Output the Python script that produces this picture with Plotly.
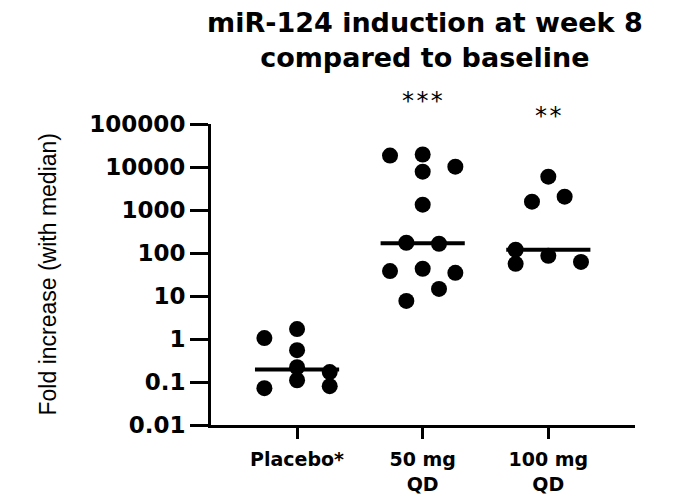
import numpy as np
import plotly.graph_objects as go

# ---- data ----
groups = ["Placebo*", "50 mg<br>QD", "100 mg<br>QD"]
placebo = [1.05, 1.7, 0.55, 0.22, 0.11, 0.072, 0.17, 0.08]
mg50 = [18450, 19500, 7800, 10200, 1330, 173, 164, 38, 43, 34.5, 14.6, 7.7]
mg100 = [5970, 1560, 2040, 119, 56, 86, 62]
significance = ["", "***", "**"]
ytick_vals = [0.01, 0.1, 1, 10, 100, 1000, 10000, 100000]
ytick_text = ["0.01", "0.1", "1", "10", "100", "1000", "10000", "100000"]
title_text = "miR-124 induction at week 8<br>compared to baseline"
ytitle_text = "Fold increase (with median)"

# ---- layout helpers (scatter offsets within each column) ----
offsets = [
    [-0.26, 0, 0, 0, 0, -0.26, 0.26, 0.26],
    [-0.26, 0, 0, 0.26, 0, -0.13, 0.13, -0.26, 0, 0.26, 0.13, -0.13],
    [0, -0.13, 0.13, -0.26, -0.26, 0, 0.26],
]
series = [placebo, mg50, mg100]
sig_pixel_y = [None, 101, 116]

fig = go.Figure()
for i, (vals, offs) in enumerate(zip(series, offsets)):
    fig.add_trace(go.Scatter(
        x=[i + o for o in offs], y=vals, mode="markers",
        marker=dict(size=16, color="black", line=dict(width=0)),
        showlegend=False, hoverinfo="y"))
    med = float(np.median(vals))
    fig.add_trace(go.Scatter(
        x=[i - 0.335, i + 0.335], y=[med, med], mode="lines",
        line=dict(color="black", width=4), showlegend=False, hoverinfo="skip"))

# plot-area geometry (pixels)
W, Hh = 696, 499
L, R, T, B = 211, 61, 124, 74
PW = W - L - R
PH = Hh - T - B
def px_to_paper_y(py):
    return (Hh - B - py) / PH
def px_to_paper_x(px):
    return (px - L) / PW

for i, s in enumerate(significance):
    if s:
        fig.add_annotation(x=i, y=px_to_paper_y(sig_pixel_y[i]), xref="x", yref="paper",
                           text="\u200a".join(s), showarrow=False, yanchor="middle",
                           font=dict(family="DejaVu Sans", size=24, color="black"))

fig.add_annotation(x=px_to_paper_x(425), y=px_to_paper_y(5), xref="paper", yref="paper",
                   text=title_text, showarrow=False, xanchor="center", yanchor="top",
                   font=dict(family="DejaVu Sans", size=27, color="black", weight="bold"))

fig.add_annotation(x=px_to_paper_x(47), y=0.5, xref="paper", yref="paper",
                   text=ytitle_text, showarrow=False, textangle=-90,
                   xanchor="center", yanchor="middle",
                   font=dict(family="Liberation Sans", size=23, color="black"))

fig.update_layout(
    width=W, height=Hh,
    margin=dict(l=L, r=R, t=T, b=B, autoexpand=False),
    paper_bgcolor="white", plot_bgcolor="white",
    xaxis=dict(range=[-0.685, 2.69], tickmode="array", tickvals=[0, 1, 2],
               ticktext=groups, showgrid=False, zeroline=False, automargin=False,
               showline=True, linecolor="black", linewidth=3,
               ticks="outside", ticklen=11, tickwidth=3, tickcolor="black",
               ticklabelstandoff=4,
               tickfont=dict(family="DejaVu Sans", size=19, color="black", weight="bold")),
    yaxis=dict(type="log", range=[-2, 5], tickmode="array",
               tickvals=ytick_vals, ticktext=ytick_text, automargin=False,
               showgrid=False, zeroline=False,
               showline=True, linecolor="black", linewidth=3,
               ticks="outside", ticklen=18, tickwidth=3, tickcolor="black",
               tickfont=dict(family="DejaVu Sans", size=23, color="black", weight="bold")),
)

fig.write_html("out.html")
